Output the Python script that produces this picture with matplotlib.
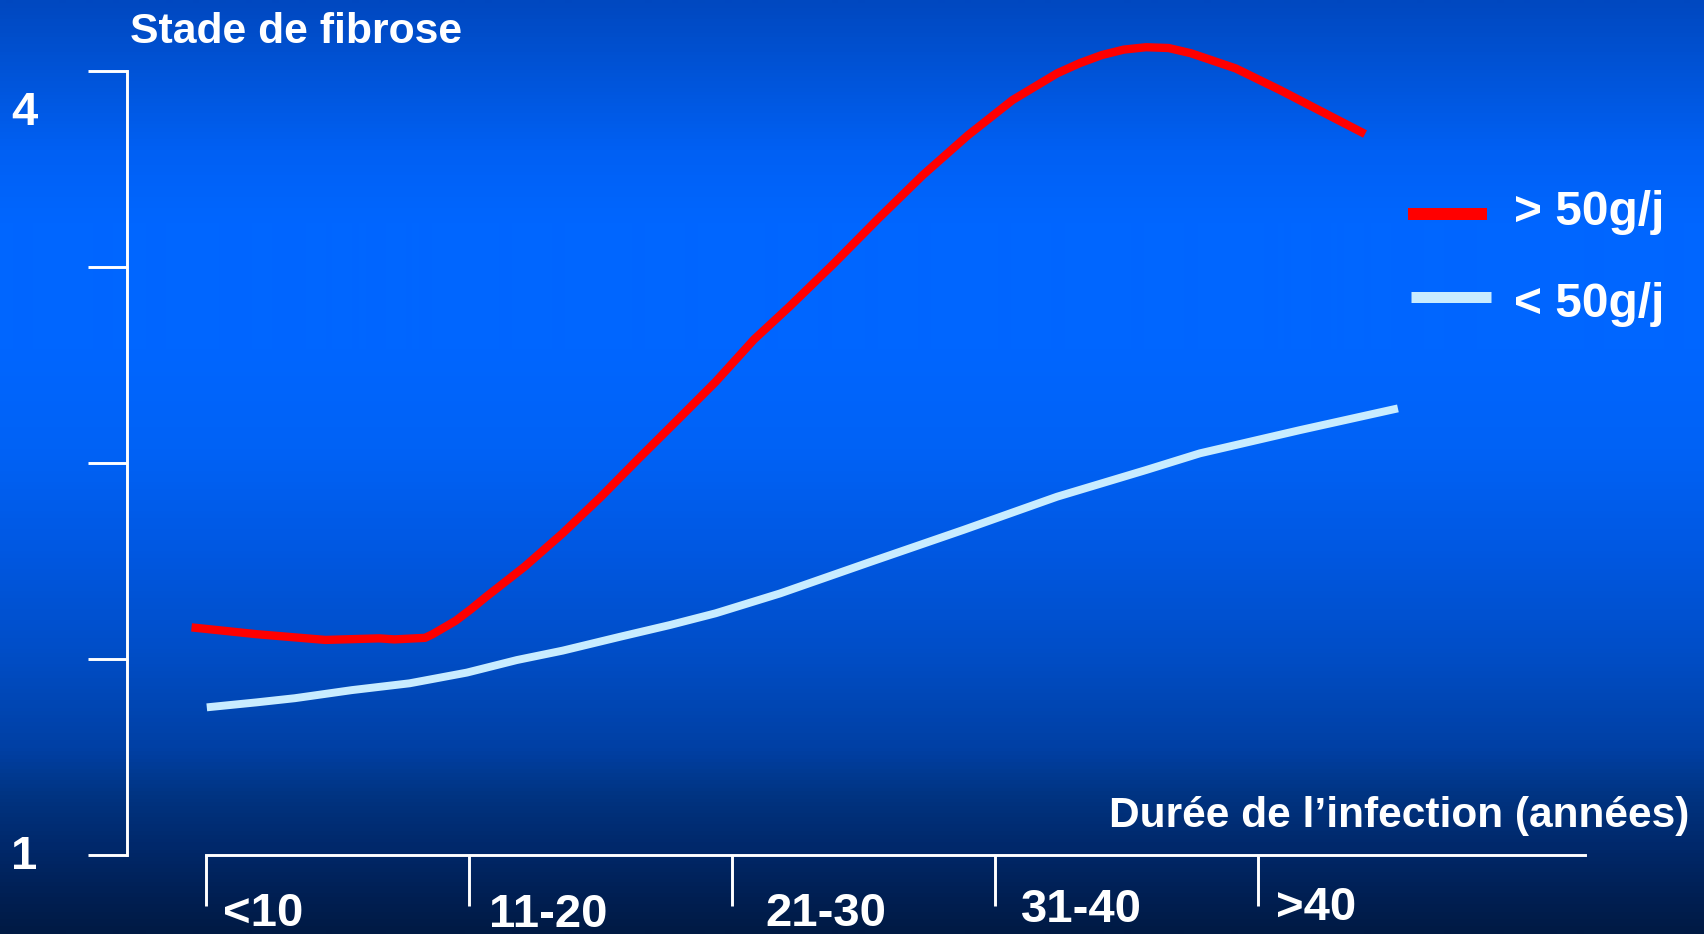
import numpy as np
import matplotlib
matplotlib.use('Agg')
import matplotlib.pyplot as plt
from matplotlib.colors import LinearSegmentedColormap
from matplotlib.lines import Line2D

plt.rcParams['font.family'] = ['Liberation Sans', 'DejaVu Sans']
plt.rcParams['font.weight'] = 'bold'

# ---------------- data ----------------
years_high = [-0.55, 1.92, 4.54, 6.58, 7.16, 8.33, 8.62, 9.49, 10.08, 10.65,
              12.11, 13.56, 15.02, 16.46, 17.93, 19.38, 20.84, 22.18, 23.88,
              25.57, 27.26, 28.97, 30.67, 32.36, 33.22, 34.06, 34.90, 35.74,
              36.60, 37.45, 39.15, 40.84, 42.55, 44.07]
stage_high = [1.871, 1.845, 1.823, 1.829, 1.825, 1.831, 1.845, 1.896, 1.941, 1.988,
              2.103, 2.231, 2.371, 2.518, 2.665, 2.811, 2.973, 3.098, 3.264,
              3.436, 3.602, 3.754, 3.889, 3.991, 4.030, 4.061, 4.082, 4.091,
              4.088, 4.068, 4.010, 3.927, 3.838, 3.759]

years_low = [0.03, 1.92, 3.38, 5.55, 7.74, 9.92, 11.82, 13.56, 15.74, 17.64,
             19.38, 21.83, 25.25, 28.80, 32.36, 35.74, 37.79, 41.60, 45.32]
stage_low = [1.565, 1.584, 1.600, 1.631, 1.657, 1.698, 1.746, 1.782, 1.835, 1.880,
             1.925, 2.001, 2.121, 2.244, 2.371, 2.473, 2.537, 2.626, 2.709]

tick_years = [0, 10, 20, 30, 40]
tick_labels = ['<10', '11-20', '21-30', '31-40', '>40']
y_ticks = [1, 1.75, 2.5, 3.25, 4]
y_tick_labels = ['1', '4']
series_labels = ['> 50g/j', '< 50g/j']
series_colors = ['#ff0000', '#c8ecff']
title_text = 'Stade de fibrose'
xlabel_text = 'Durée de l’infection (années)'

# ---------------- layout ----------------
W, H, DPI = 1704, 934, 100
PT = DPI / 72.0
X0_PX = 206.0          # pixel x of year 0
PX_PER_YEAR = 26.3
Y1_PX_BOTTOM = 79.0    # pixel (from bottom) of stage 1
PX_PER_STAGE = 261.33

fig = plt.figure(figsize=(W / DPI, H / DPI), dpi=DPI)

# background gradient
stops = [(0, '#0048c0'), (60, '#0052d4'), (150, '#0060f4'), (220, '#0066ff'),
         (350, '#0066ff'), (450, '#0062f6'), (550, '#0058e2'), (650, '#004ec8'),
         (750, '#0040a4'), (800, '#003380'), (850, '#00286a'), (900, '#001f52'),
         (934, '#001a44')]
cmap = LinearSegmentedColormap.from_list('bg', [(p / H, c) for p, c in stops])
bg = fig.add_axes([0, 0, 1, 1])
bg.axis('off')
bg.imshow(np.linspace(0, 1, H).reshape(-1, 1), cmap=cmap, aspect='auto',
          interpolation='bilinear')

ax = fig.add_axes([0, 0, 1, 1], facecolor='none')
ax.set_zorder(2)
ax.set_xlim(-X0_PX / PX_PER_YEAR, (W - X0_PX) / PX_PER_YEAR)
ax.set_ylim(1 - Y1_PX_BOTTOM / PX_PER_STAGE, 1 + (H - Y1_PX_BOTTOM) / PX_PER_STAGE)

# curves
ax.plot(years_high, stage_high, color=series_colors[0], lw=6.0,
        solid_capstyle='butt', solid_joinstyle='round', zorder=3)
ax.plot(years_low, stage_low, color=series_colors[1], lw=5.7,
        solid_capstyle='butt', solid_joinstyle='round', zorder=3)

# axes (spines)
for s in ['top', 'right']:
    ax.spines[s].set_visible(False)
ax.spines['left'].set_position(('data', (127 - X0_PX) / PX_PER_YEAR))
ax.spines['left'].set_bounds(y_ticks[0], y_ticks[-1])
ax.spines['bottom'].set_position(('data', 1))
ax.spines['bottom'].set_bounds(0, (1585 - X0_PX) / PX_PER_YEAR)
for s in ['left', 'bottom']:
    ax.spines[s].set_color('white')
    ax.spines[s].set_linewidth(2.1)
ax.set_xticks(tick_years)
ax.set_yticks(y_ticks)
ax.tick_params(axis='x', direction='out', length=51 / PT, width=2.1, color='white',
               labelbottom=False)
ax.tick_params(axis='y', direction='out', length=39 / PT, width=2.1, color='white',
               labelleft=False)

# x tick labels (to the right of each tick)
label_dx_px = [17, 20, 33, 26, 18]
label_dy_px = [71, 72, 71, 67, 65]
for t, lab, dx, dy in zip(tick_years, tick_labels, label_dx_px, label_dy_px):
    ax.annotate(lab, xy=(t, 1), xycoords='data', xytext=(dx / PT, -dy / PT),
                textcoords='offset points', ha='left', va='baseline',
                fontsize=34, color='white', fontweight='bold')

# y labels
def ftext(xpx, ypx_top, s, **kw):
    fig.text(xpx / W, 1 - ypx_top / H, s, color='white', fontweight='bold', **kw)

ftext(11, 125, y_tick_labels[1], fontsize=34, ha='left', va='baseline')
ftext(11, 869, y_tick_labels[0], fontsize=34, ha='left', va='baseline')

# titles
ftext(130, 43, title_text, fontsize=30.8, ha='left', va='baseline')
ftext(1689, 827, xlabel_text, fontsize=30.6, ha='right', va='baseline')

# legend
leg_rows = [(1408, 1487, 214, 12, 225), (1411, 1491, 297, 11, 317)]
for (x0, x1, yl, th, yb), lab, col in zip(leg_rows, series_labels, series_colors):
    fig.add_artist(Line2D([x0 / W, x1 / W], [1 - yl / H, 1 - yl / H],
                          transform=fig.transFigure, color=col, lw=th / PT,
                          solid_capstyle='butt'))
    ftext(1514, yb, lab, fontsize=34.5, ha='left', va='baseline')

fig.savefig('out.png', dpi=DPI)
